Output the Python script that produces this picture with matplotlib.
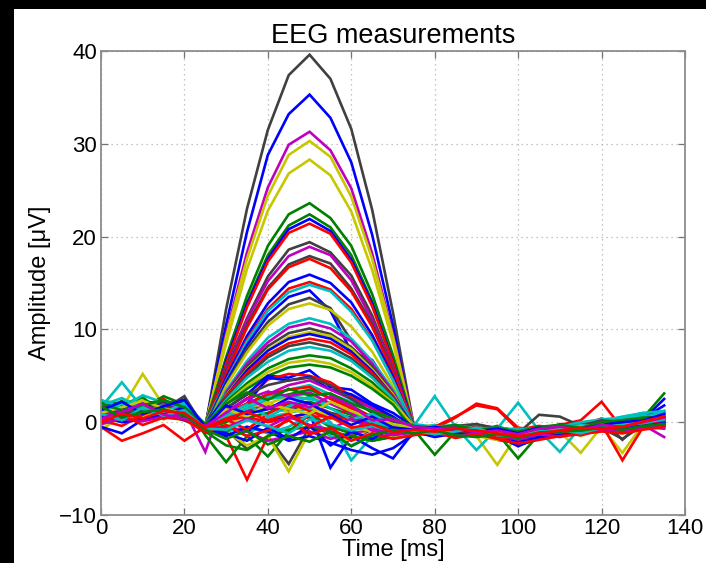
import matplotlib
matplotlib.use("Agg")
import matplotlib.pyplot as plt
from matplotlib.patches import Rectangle

plt.rcParams['font.family'] = ['Liberation Sans', 'DejaVu Sans']

time_ms = [0, 5, 10, 15, 20, 25, 30, 35, 40, 45, 50, 55, 60, 65, 70,
           75, 80, 85, 90, 95, 100, 105, 110, 115, 120, 125, 130, 135]

ch01 = [0.8, 1.2, 0.5, 1.0, 0.7, -0.6, 12.2, 23.0, 31.5, 37.4, 39.6, 37.0, 31.6, 22.9, 11.8, -0.5, -0.8, -0.5, -1.0, -0.7, -1.5, -1.0, -0.6, -0.3, 0.0, -0.2, 0.3, 0.1]
ch02 = [1.5, 0.6, 1.8, 1.2, 0.9, -0.4, 10.5, 20.5, 28.8, 33.2, 35.3, 32.8, 28.0, 20.2, 10.4, -0.9, -1.2, -0.8, -0.4, -1.3, -2.0, -1.4, -1.0, -0.7, -0.2, -0.5, 0.2, 0.6]
ch03 = [0.3, 1.0, 1.4, 2.2, 1.5, -0.8, 9.5, 18.3, 25.3, 29.9, 31.3, 29.3, 25.2, 18.2, 9.4, -0.3, -0.6, -1.1, -0.9, -0.5, -1.2, -0.8, -0.4, -1.0, -0.3, 0.1, -0.4, 0.2]
ch04 = [2.0, 1.5, 5.2, 1.8, 2.5, -0.5, 9.2, 17.6, 24.4, 28.8, 30.3, 28.6, 24.3, 17.6, 9.2, -0.6, -0.3, -0.9, -1.5, -4.6, -1.2, -0.7, -1.0, -3.3, -0.5, -3.3, -0.2, 0.4]
ch05 = [1.2, 0.4, 0.9, 1.6, 0.8, -0.3, 8.5, 16.5, 22.8, 26.8, 28.3, 26.6, 22.7, 16.4, 8.6, -0.8, -1.0, -0.6, -1.3, -1.8, -1.0, -0.5, -0.9, -0.4, -0.6, 0.0, 0.5, 0.2]
ch06 = [0.9, 1.8, 1.1, 0.4, 1.3, -0.7, 7.0, 13.6, 19.0, 22.4, 23.6, 22.0, 19.0, 13.8, 7.2, -0.4, -1.5, -1.1, -0.6, -0.9, -1.6, -1.2, -0.8, -0.5, -0.9, -0.1, 0.6, 0.9]
ch07 = [2.3, 2.0, 1.5, 2.8, 1.9, -0.2, 6.8, 12.9, 18.0, 21.2, 22.4, 21.0, 18.0, 13.0, 6.7, -1.0, -0.7, -0.5, -0.8, -1.1, -0.6, -1.3, -0.5, -0.2, -0.7, 0.4, 0.0, 0.5]
ch08 = [0.1, 1.3, 2.4, 1.7, 0.6, -0.9, 6.6, 12.7, 17.6, 20.8, 21.9, 20.6, 17.5, 12.8, 6.5, -0.6, -1.3, -1.0, -1.2, -1.9, -2.2, -1.5, -1.1, -0.6, -0.3, -0.8, -0.1, 0.3]
ch09 = [1.0, 0.2, 1.2, 0.8, 1.6, -0.5, 6.3, 12.4, 17.3, 20.4, 21.4, 20.3, 17.2, 12.5, 6.4, -1.1, -0.4, -0.9, -0.3, -0.6, -1.4, -0.9, -0.2, -0.6, 0.3, -0.4, 0.8, 0.4]
ch10 = [1.4, 0.9, 0.3, 1.9, 2.4, -0.4, 5.9, 11.2, 15.7, 18.6, 19.4, 18.3, 15.8, 11.5, 5.8, -0.7, -0.9, -0.6, -1.0, -0.4, -1.8, -0.8, -0.7, -1.1, -0.5, -0.2, 0.1, -0.3]
ch11 = [0.6, 2.1, 1.0, 1.3, 0.4, -1.0, 5.6, 11.0, 15.2, 17.9, 18.9, 18.0, 15.3, 11.0, 5.7, -0.5, -1.1, -1.4, -0.7, -1.0, -0.9, -1.6, -0.6, -0.9, -0.4, 0.2, -0.3, 0.3]
ch12 = [1.8, 1.1, 2.0, 0.6, 1.2, -0.6, 5.4, 10.5, 14.5, 17.0, 17.9, 17.1, 14.4, 10.6, 5.5, -0.9, -0.5, -1.2, -1.4, -0.8, -1.7, -1.1, -0.9, -0.3, -0.8, 0.5, 0.2, -0.1]
ch13 = [0.4, 0.8, 1.7, 2.5, 1.0, -0.3, 5.2, 10.2, 14.3, 16.7, 17.6, 16.6, 14.1, 10.3, 5.3, -0.4, -0.8, -0.3, -0.9, -1.2, -1.1, -0.7, -1.3, -0.8, -0.1, -0.5, 0.4, 0.7]
ch14 = [2.1, 1.6, 0.7, 1.1, 1.8, -0.8, 4.8, 9.3, 12.8, 15.1, 15.9, 15.0, 12.9, 9.4, 4.9, -0.8, -1.4, -0.9, -0.5, -1.5, -2.3, -1.7, -1.2, -0.8, -0.6, -0.3, 0.3, 2.5]
ch15 = [0.7, 1.4, 0.9, 1.5, 0.3, -0.7, 4.5, 8.9, 12.2, 14.4, 15.1, 14.3, 12.2, 8.9, 4.6, -0.6, -1.0, -0.4, -0.6, -0.9, -1.3, -0.6, -0.8, -0.2, -0.9, -0.6, 0.1, 0.5]
ch16 = [1.3, 0.5, 1.9, 0.9, 1.4, -0.2, 4.4, 8.7, 12.0, 14.0, 14.8, 14.1, 11.9, 8.8, 4.5, -0.5, -0.6, -1.0, -0.4, -0.8, -0.9, -1.1, -0.5, -0.4, 0.1, 0.3, 0.9, 0.6]
ch17 = [0.2, 0.9, 1.3, 1.9, 0.8, -0.5, 4.3, 8.3, 11.5, 13.5, 14.2, 12.0, 7.6, 6.7, 3.2, -0.7, -0.9, -0.7, -0.5, -1.0, -2.1, -1.3, -0.9, -0.6, -0.2, -0.4, 0.0, 0.6]
ch18 = [1.0, 1.7, 0.6, 1.2, 2.0, -0.4, 4.0, 7.9, 10.8, 12.7, 13.4, 12.3, 8.8, 6.2, 3.5, -0.3, -1.2, -0.8, -1.1, -1.4, -1.8, -1.0, -0.8, -0.5, -0.4, -0.7, 0.2, 0.0]
ch19 = [0.5, 1.2, 2.6, 0.9, 1.1, -0.9, 3.9, 7.5, 10.4, 12.2, 12.8, 12.1, 10.3, 7.6, 3.9, -1.2, -0.6, -1.0, -0.8, -1.5, -0.8, -0.6, -1.1, -0.7, -0.3, -0.9, 0.0, 0.4]
ch20 = [1.6, 4.3, 1.5, 2.3, 0.7, -0.6, 3.4, 6.6, 9.1, 10.6, 11.2, 10.6, 9.0, 6.6, 3.5, -0.4, 2.8, -0.5, -3.0, -0.7, 2.1, -0.9, -3.2, -0.5, -0.2, 0.3, 0.5, 0.8]
ch21 = [0.8, 0.3, 1.1, 1.6, 1.3, -3.2, 3.2, 6.3, 8.6, 10.2, 10.7, 10.1, 8.7, 6.3, 3.3, -0.8, -1.1, -0.9, -1.3, -1.0, -1.4, -1.6, -1.2, -0.6, -0.8, -0.5, -0.3, -1.6]
ch22 = [1.1, 1.4, 0.8, 0.5, 1.7, -0.5, 3.0, 6.0, 8.2, 9.6, 10.1, 9.5, 8.1, 6.0, 3.1, -0.9, -0.4, -0.6, -1.2, -0.9, -1.6, -0.7, -0.4, -0.8, -0.5, 0.2, -0.1, 0.3]
ch23 = [-0.8, 0.6, 1.3, 2.0, 0.9, -0.7, 2.9, 5.7, 7.8, 9.2, 9.7, 9.3, 7.9, 5.7, 3.0, -0.7, -1.0, -1.3, -0.9, -1.2, -1.9, -1.1, -0.7, -1.4, -0.6, -0.4, 0.1, 0.2]
ch24 = [1.9, 1.0, 1.6, 0.4, 1.5, -0.3, 2.8, 5.6, 7.7, 9.0, 9.5, 9.0, 7.6, 5.5, 2.8, -0.5, -1.4, -1.1, -0.7, -1.6, -2.5, -1.8, -1.0, -0.5, -0.4, -0.9, 0.3, 0.1]
ch25 = [0.0, 0.7, 1.8, 1.0, 0.5, -1.0, 2.8, 5.3, 7.3, 8.5, 9.0, 8.6, 7.3, 5.3, 2.8, -0.9, -0.7, 0.5, 2.0, 1.5, -0.6, -0.8, -0.3, 0.2, 2.2, -0.7, 0.6, 0.3]
ch26 = [0.9, 1.5, 2.2, 1.4, 2.8, -0.8, 2.6, 5.0, 7.0, 8.2, 8.6, 8.1, 6.9, 5.0, 2.7, -0.6, -0.9, -0.7, -0.5, -1.3, -1.2, 0.8, 0.6, -0.4, 0.3, -1.9, 0.2, 0.0]
ch27 = [1.4, 0.8, 0.2, 1.2, 1.0, -0.4, 2.4, 4.8, 6.5, 7.7, 8.1, 7.7, 6.6, 4.8, 2.5, -0.8, -0.3, -0.6, -0.9, -0.5, -1.0, -0.7, -0.4, -0.3, 0.1, 0.6, 1.0, 0.7]
ch28 = [2.2, 1.9, 2.7, 0.8, 0.6, -0.6, 2.2, 4.2, 5.8, 6.8, 7.2, 6.9, 5.8, 4.3, 2.2, -1.0, -0.8, -1.2, -1.5, -1.0, -1.3, -1.0, -0.6, -0.9, -0.2, -0.6, 0.4, 1.2]
ch29 = [0.6, 0.2, 0.9, 1.4, 2.1, -0.2, 2.0, 3.9, 5.4, 6.4, 6.7, 6.3, 5.4, 3.9, 2.1, -0.4, -1.1, -0.8, -0.6, -1.1, -1.5, -0.9, -0.5, -0.6, -0.3, 0.0, 0.8, 0.5]
ch30 = [1.2, 0.7, 1.0, 1.8, 0.9, -0.9, 1.9, 3.6, 5.0, 5.9, 6.2, 5.9, 5.0, 3.6, 1.9, -0.9, -0.6, -1.0, -1.1, -1.4, -1.7, -1.2, -1.0, -0.6, -0.4, -0.2, 0.2, 0.6]
ch31 = [0.3, 1.1, 2.0, 1.3, 0.8, -0.6, 1.5, 3.0, 5.0, 4.8, 5.6, 3.8, 3.5, 2.0, 1.0, -0.5, -1.0, -0.7, -1.1, -1.7, -2.0, -1.1, -0.7, -0.9, -0.3, -0.6, 0.1, 0.4]
ch32 = [1.7, 0.6, 1.2, 2.0, 1.1, -0.4, 1.0, 2.5, 4.6, 5.2, 5.0, 4.3, 2.8, 1.5, 0.5, -0.7, -1.3, -0.9, -0.8, -1.0, -1.6, -0.9, -1.0, -0.5, -0.6, -0.3, 0.3, 0.5]
ch33 = [0.8, 1.5, 0.4, 1.0, 1.8, -0.7, 0.8, 2.0, 4.8, 4.5, 4.9, 3.5, 3.0, 1.8, 0.6, -0.9, -0.5, -1.2, -0.6, -1.3, -1.9, -1.4, -0.8, -0.4, -0.7, -0.2, 0.6, 0.2]
ch34 = [1.5, 1.9, 1.2, 0.6, 1.3, -0.5, 0.5, 2.0, 3.0, 4.0, 4.5, 3.5, 2.5, 1.5, 0.0, -0.6, -1.0, -1.4, -0.9, -1.1, -1.3, -1.5, -1.0, -0.7, -0.9, -0.4, -0.2, 0.0]
ch35 = [0.9, 0.3, 1.4, 1.9, 0.5, -0.3, 0.5, 1.8, 2.8, 3.5, 4.0, 3.0, 2.2, 1.2, 0.2, -0.4, -0.8, -0.5, -0.6, -0.9, -1.1, -0.8, -0.6, -0.2, 0.0, 0.4, 0.7, 0.9]
ch36 = [1.1, 2.3, 0.8, 1.5, 1.0, -0.8, 0.0, 1.2, 2.5, 3.0, 3.5, 2.6, 1.8, 0.5, -0.5, -0.8, -3.5, -1.0, -0.7, -1.2, -3.9, -1.3, -0.9, -0.7, -0.5, -0.8, 0.5, 3.1]
ch37 = [0.4, 0.9, 1.7, 0.3, 1.6, -0.6, -0.5, 1.0, 2.0, 2.8, 3.0, 2.0, 1.0, 0.5, -0.8, -0.9, -0.7, -1.2, -1.0, -1.4, -1.2, -0.7, -1.2, -1.0, -0.4, -1.1, 0.1, 0.3]
ch38 = [-0.5, -2.0, -1.2, -0.3, -2.0, -0.5, -1.5, -6.2, -1.5, 0.5, 1.0, -0.5, -1.0, -2.0, -1.5, -0.7, -0.5, 0.6, 1.8, 1.4, -0.8, -0.9, -0.6, -0.8, -0.2, -4.1, -0.5, 0.2]
ch39 = [0.5, 1.0, 0.7, 1.5, 1.2, -0.6, -0.8, -2.9, -1.5, -4.5, -0.5, -1.2, -1.8, -0.8, -1.2, -0.5, -0.9, -1.1, -1.4, -1.5, -2.0, -1.2, -0.9, -1.1, -0.6, -1.8, -0.3, 0.0]
ch40 = [0.2, 0.8, 1.5, 1.1, 0.6, -1.2, 0.5, 1.2, 1.8, 1.5, 2.0, 1.0, 0.3, -0.3, -0.6, -0.6, -1.2, -1.4, -1.0, -1.3, -1.5, -1.8, -1.4, -0.8, -0.9, -0.7, -0.4, -0.2]
ch41 = [2.4, 1.6, 2.9, 2.1, 1.4, -0.5, -0.5, -1.5, 0.5, 1.0, 1.5, 0.0, -4.1, -1.5, -1.0, -0.5, -0.6, -0.8, -0.4, -0.9, -0.7, -0.8, -1.0, -0.6, 0.2, 0.4, 0.8, 1.1]
ch42 = [1.0, 0.4, 0.9, 1.6, 0.8, -0.7, -0.5, -1.0, 0.2, 0.5, 1.0, -4.9, -1.5, -2.8, -3.9, -1.0, -1.5, -1.1, -0.9, -1.4, -2.6, -1.6, -1.1, -0.8, -0.6, -0.4, 0.4, 1.8]
ch43 = [0.7, 1.3, 0.5, 1.1, 2.2, -1.4, -4.3, -1.5, -3.7, -1.0, 0.8, -0.5, -1.2, -2.0, -1.6, -1.2, -1.4, -1.0, -1.3, -0.8, -1.5, -1.1, -1.4, -0.9, -0.5, -1.0, -0.6, -0.3]
ch44 = [-0.3, 0.5, 1.0, 0.6, 0.2, -0.9, -1.0, -2.5, -1.5, -5.3, -1.0, -1.5, -2.0, -0.5, -1.2, -0.8, -1.2, -0.9, -1.5, -1.9, -1.3, -1.0, -0.6, -1.5, -0.7, -1.2, -0.4, 0.0]
ch45 = [1.3, 0.7, 0.2, 1.0, 0.6, -0.4, 0.2, 0.6, 0.0, 0.4, 0.5, 0.8, 0.2, -0.3, -0.7, -0.4, -0.7, -0.4, -0.9, -1.0, -0.8, -0.4, -0.7, -0.3, -0.1, 0.2, 0.3, 0.7]
ch46 = [0.5, 1.2, 0.6, 0.9, 1.9, -0.8, -1.0, -0.5, -1.2, -0.5, 0.8, -1.5, -2.5, -1.5, -1.0, -0.6, -0.9, -0.6, -1.2, -0.9, -1.5, -0.8, -1.2, -0.9, -0.3, -0.7, 0.1, 0.4]
ch47 = [1.1, 0.5, 1.4, 0.7, 1.0, -0.6, -0.5, -1.0, -2.0, -1.5, -1.0, -1.8, -1.2, -0.8, -1.0, -1.0, -1.5, -1.2, -0.6, -1.1, -1.7, -1.3, -1.1, -1.4, -0.8, -0.9, -0.5, -0.7]
ch48 = [0.3, 0.6, 1.1, 0.4, 0.9, -0.2, 0.5, 1.0, 1.5, 1.2, 1.8, 1.0, 0.5, 0.0, -0.5, -0.3, -0.6, -0.4, -0.2, -0.7, -1.1, -0.6, -0.3, -0.2, 0.0, -0.3, 0.3, 0.2]
ch49 = [1.6, 1.0, 0.6, 1.2, 1.5, -0.5, -1.0, 0.5, 1.0, 2.0, 2.2, 1.5, 0.8, 0.0, -0.8, -0.5, -0.8, -0.6, -0.9, -0.5, -1.0, -0.7, -0.5, -0.4, -0.2, 0.1, 0.4, 0.6]
ch50 = [-0.5, -1.2, 0.3, 0.9, 0.2, -0.6, -1.5, -0.5, -1.0, -2.0, -1.5, -2.2, -3.0, -3.5, -2.8, -1.3, -1.2, -0.7, -0.8, -1.2, -2.2, -1.4, -1.0, -0.7, -0.5, -0.6, -0.2, 0.3]
ch51 = [0.9, 0.3, 0.6, 1.3, 0.4, -0.4, 0.8, 1.5, 2.2, 1.0, 1.8, 0.5, -0.5, -1.0, -1.5, -1.1, -0.9, -0.5, -1.1, -0.8, -1.4, -0.9, -0.8, -1.0, -0.9, -0.5, -0.2, 0.4]
ch52 = [0.6, 1.0, 1.6, 0.9, 1.2, -0.7, 1.0, 2.0, 3.0, 3.5, 3.8, 2.5, 1.5, 0.5, -0.2, -0.6, -1.0, -0.8, -0.5, -1.1, -1.2, -0.5, -0.9, -0.4, 0.4, -0.2, 0.2, 0.5]
ch53 = [1.2, 2.0, 1.3, 0.6, 1.1, -0.5, 0.5, 1.5, 2.5, 2.8, 2.5, 2.0, 1.0, 0.0, -0.5, -0.2, -0.5, -0.3, -0.7, -0.6, -0.8, -0.6, -0.5, 0.0, 0.3, 0.5, 1.0, 1.2]
ch54 = [0.4, 0.8, 1.5, 1.0, 0.5, -1.0, -2.5, -3.0, -1.5, -0.8, -0.5, -1.0, -1.5, -2.0, -1.2, -0.9, -1.1, -1.3, -1.0, -1.5, -1.4, -1.0, -0.8, -0.6, -0.7, -0.4, 0.0, 0.4]
ch55 = [0.7, 1.3, 0.9, 1.8, 1.4, -0.9, 1.2, 2.5, 3.3, 2.8, 3.2, 2.0, 1.0, -0.5, -1.0, -0.7, -1.0, -0.7, -0.9, -1.2, -1.0, -0.7, -0.9, -0.5, -0.6, -0.3, 0.2, -0.5]
ch56 = [1.5, 0.9, 1.2, 2.2, 0.6, -0.3, 1.5, 3.0, 4.0, 4.5, 4.8, 4.0, 2.5, 1.0, 0.0, -0.6, -0.8, -0.5, -1.0, -0.8, -1.3, -0.8, -0.5, -0.4, 0.2, 0.0, 0.3, 0.1]
ch57 = [0.2, -0.4, 0.8, 1.7, 0.9, -0.9, 0.3, -0.8, 0.9, 2.1, 1.2, 0.4, 1.6, 0.6, -0.4, -0.9, -1.3, -0.8, -1.2, -1.6, -1.8, -1.5, -1.3, -0.9, -0.5, -0.8, -0.3, 0.2]
ch58 = [1.8, 2.6, 1.4, 1.0, 2.1, -0.3, 0.8, 1.9, 0.6, 1.7, 2.8, 1.5, 0.3, 0.9, -0.3, -0.5, -0.7, -1.0, -0.6, -0.8, -1.4, -0.9, -0.7, -0.3, -0.6, 0.1, 0.6, 1.0]
ch59 = [0.6, 0.0, 0.3, 0.8, 1.6, -0.6, -1.2, -2.0, -0.6, -1.8, -0.4, -2.5, -1.0, -1.8, -0.6, -1.0, -1.6, -1.2, -1.5, -1.1, -2.0, -1.6, -1.4, -1.2, -0.9, -0.6, -0.4, -0.1]
ch60 = [1.0, 1.6, 2.3, 1.5, 0.9, -0.4, 1.4, 0.6, 2.0, 1.4, 0.9, 2.2, 1.2, 0.4, -0.2, -0.6, -0.9, -0.8, -0.7, -1.0, -1.1, -1.2, -0.6, -0.5, -0.2, -0.4, 0.4, 0.8]
ch61 = [-0.2, 0.4, 0.1, 0.6, 1.0, -0.8, -0.6, 0.4, -0.5, 0.6, -0.3, -0.8, 0.4, -0.9, -1.4, -1.1, -1.0, -1.5, -1.2, -1.3, -1.9, -1.3, -1.6, -1.1, -0.8, -1.0, -0.6, -0.4]
ch62 = [2.0, 1.3, 1.8, 2.4, 1.6, -0.2, 2.0, 3.2, 2.4, 3.6, 2.9, 3.1, 2.0, 1.2, 0.4, -0.4, -0.6, -0.3, -0.8, -0.6, -1.0, -0.5, -0.3, -0.6, 0.0, 0.2, 0.5, 0.6]
ch63 = [0.1, 0.8, -0.3, 0.5, 0.3, -1.1, -0.3, -1.5, -0.9, 0.2, -1.3, -0.6, -2.0, -1.2, -1.8, -1.4, -1.1, -1.7, -1.3, -1.8, -2.3, -1.9, -1.5, -1.3, -1.0, -1.2, -0.8, -0.5]
ch64 = [1.3, 2.2, 0.9, 1.7, 2.4, -0.5, 1.8, 0.9, 1.4, 2.6, 2.0, 0.8, -0.3, 0.6, -0.6, -0.8, -0.5, -0.9, -1.0, -0.7, -1.2, -0.6, -0.9, -0.7, -0.3, 0.0, 0.2, 0.9]
ch65 = [0.9, 0.2, 1.6, 0.7, 1.3, -0.7, -0.8, 0.2, -0.4, -1.2, 0.3, -0.2, -0.9, -0.4, -1.0, -0.9, -1.3, -1.0, -0.6, -1.4, -1.6, -1.0, -0.8, -1.2, -0.6, -0.3, -0.1, 0.3]
ch66 = [0.4, 1.1, 2.0, 0.8, 0.4, -0.4, 1.0, 2.6, 1.5, 2.2, 1.6, 2.8, 1.8, 0.2, 0.3, -0.5, -0.7, -0.6, -1.1, -0.9, -1.3, -0.7, -0.5, -0.8, -0.3, -0.5, 0.0, 0.5]
ch67 = [1.7, 0.5, 1.1, 1.4, 0.8, -0.8, -1.8, -0.9, -2.4, -1.5, -2.1, -1.0, -2.6, -1.4, -0.8, -1.2, -0.9, -1.4, -1.6, -1.3, -1.7, -1.1, -1.0, -0.9, -0.6, -0.8, -0.4, -0.2]
ch68 = [0.0, 0.9, 0.4, 1.2, 1.0, -0.6, 0.4, 1.1, 0.2, 0.9, -0.5, 0.6, -0.6, -0.2, -1.1, -0.8, -1.0, -0.7, -0.9, -1.2, -1.5, -1.2, -0.9, -0.6, -0.7, -0.5, 0.1, 0.6]

channels = [ch01, ch02, ch03, ch04, ch05, ch06, ch07, ch08, ch09, ch10,
            ch11, ch12, ch13, ch14, ch15, ch16, ch17, ch18, ch19, ch20,
            ch21, ch22, ch23, ch24, ch25, ch26, ch27, ch28, ch29, ch30,
            ch31, ch32, ch33, ch34, ch35, ch36, ch37, ch38, ch39, ch40,
            ch41, ch42, ch43, ch44, ch45, ch46, ch47, ch48, ch49, ch50,
            ch51, ch52, ch53, ch54, ch55, ch56, ch57, ch58, ch59, ch60,
            ch61, ch62, ch63, ch64, ch65, ch66, ch67, ch68]

channel_colors = ['k', 'b', 'm', 'y', 'y', 'g', 'g', 'b', 'r', 'k',
                  'm', 'k', 'r', 'b', 'r', 'c', 'b', 'k', 'y', 'c',
                  'm', 'k', 'y', 'b', 'r', 'k', 'c', 'g', 'y', 'g',
                  'b', 'r', 'b', 'm', 'c', 'g', 'y', 'r', 'k', 'm',
                  'c', 'b', 'g', 'y', 'r', 'c', 'm', 'k', 'g', 'b',
                  'y', 'r', 'c', 'g', 'm', 'k', 'r', 'c', 'b', 'y',
                  'm', 'g', 'r', 'b', 'c', 'm', 'g', 'r']

x_ticks = [0, 20, 40, 60, 80, 100, 120, 140]
y_ticks = [-10, 0, 10, 20, 30, 40]

matlab_rgb = {'b': (0, 0, 1), 'g': (0, 0.5, 0), 'r': (1, 0, 0),
              'c': (0, 0.75, 0.75), 'm': (0.75, 0, 0.75),
              'y': (0.78, 0.78, 0), 'k': (0.25, 0.25, 0.25)}

fig = plt.figure(figsize=(7.06, 5.63), dpi=100, facecolor='black')
fig.add_artist(Rectangle((14 / 706, 0), 1, 1 - 9 / 563, transform=fig.transFigure,
                         facecolor='white', edgecolor='none', zorder=-5))
ax = fig.add_axes([101 / 706, 1 - 515 / 563, (685 - 101) / 706, (515 - 51) / 563])

for vals, c in zip(channels, channel_colors):
    ax.plot(time_ms, vals, color=matlab_rgb[c], linewidth=1.9, solid_joinstyle='miter')

ax.set_xlim(0, 140)
ax.set_ylim(-10, 40)
ax.set_xticks(x_ticks)
ax.set_yticks(y_ticks)
ax.grid(True, linestyle=(0, (1, 3)), color='0.7', linewidth=0.9)
ax.set_axisbelow(True)
for s in ax.spines.values():
    s.set_color('0.55')
    s.set_linewidth(1.3)
ax.tick_params(direction='in', top=True, right=True, length=5, width=0.9,
               color='0.45', labelcolor='black', labelsize=16, pad=3)
ax.tick_params(axis='x', pad=2)
ax.set_title('EEG measurements', fontsize=19.5, pad=6)
ax.set_xlabel('Time [ms]', fontsize=17, labelpad=0)
ax.set_ylabel('Amplitude [\u03bcV]', fontsize=17, labelpad=6)

fig.savefig('out.png', dpi=100, facecolor=fig.get_facecolor())
